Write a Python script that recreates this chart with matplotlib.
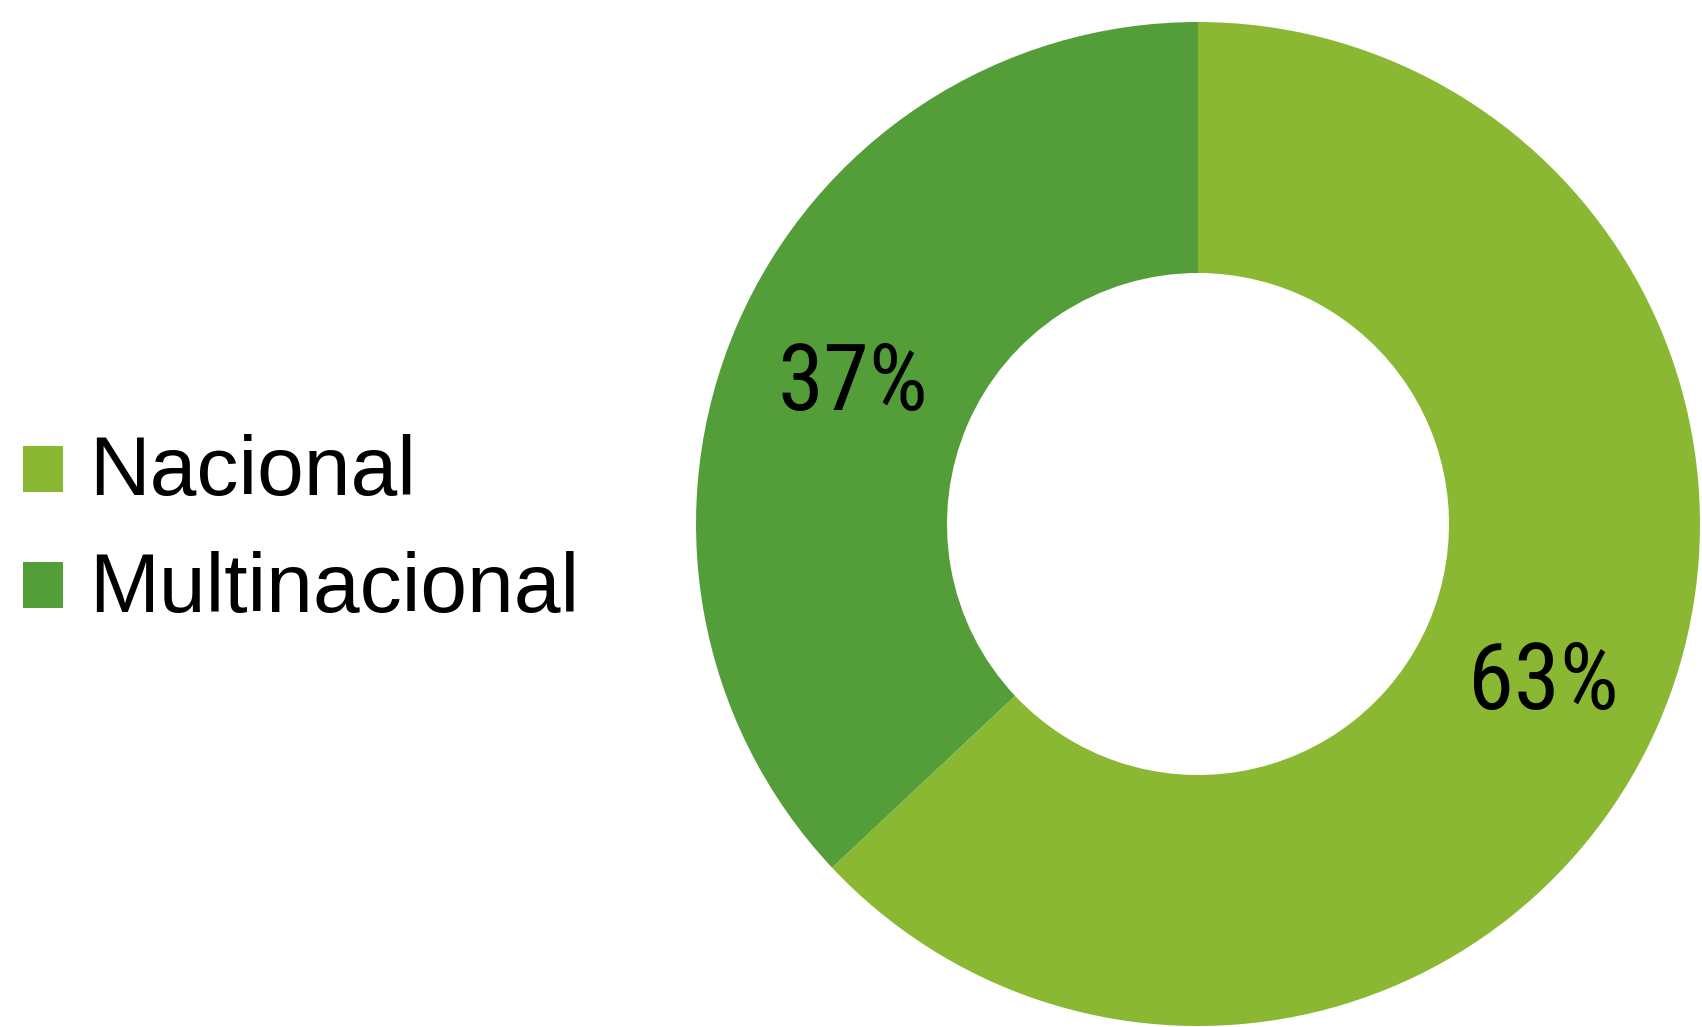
import matplotlib
matplotlib.use("Agg")
import matplotlib.pyplot as plt
from matplotlib.patches import Rectangle
from matplotlib.transforms import offset_copy

categories = ["Nacional", "Multinacional"]
shares = [63, 37]
colors = ["#8AB833", "#549E39"]

plt.rcParams["font.family"] = ["Liberation Sans", "DejaVu Sans"]
label_family = ["Roboto Condensed", "Liberation Sans", "DejaVu Sans"]

W, H = 1702, 1027
fig = plt.figure(figsize=(W / 100, H / 100), dpi=100)
fig.patch.set_facecolor("white")

# Donut axes: square region on the right side
cx, cy, r = 1198, 524, 502
ax = fig.add_axes([(cx - r) / W, (H - cy - r) / H, 2 * r / W, 2 * r / H])
wedges, _, autotexts = ax.pie(
    shares,
    colors=colors,
    startangle=90,
    counterclock=False,
    radius=1.0,
    autopct=lambda p: f"{p:.0f}%",
    pctdistance=0.75,
    wedgeprops=dict(width=0.5, linewidth=0),
    textprops=dict(fontsize=67, color="black", family=label_family,
                   fontweight="normal"),
)
for t in autotexts:
    t.set_transform(offset_copy(t.get_transform(), fig=fig, x=0, y=-10,
                                units="dots"))
ax.set_xlim(-1, 1)
ax.set_ylim(-1, 1)
ax.set_aspect("equal")
ax.axis("off")

# Legend drawn on the left in figure pixels
for i, (name, col) in enumerate(zip(categories, colors)):
    top = 446 + i * 116
    fig.patches.append(Rectangle((23 / W, (H - top - 46) / H), 40 / W, 46 / H,
                                 transform=fig.transFigure, facecolor=col,
                                 edgecolor="none"))
    fig.text(89 / W, (H - (495 + i * 117)) / H, name, fontsize=60.5,
             color="black", ha="left", va="baseline")

fig.savefig("out.png", dpi=100, facecolor="white")
